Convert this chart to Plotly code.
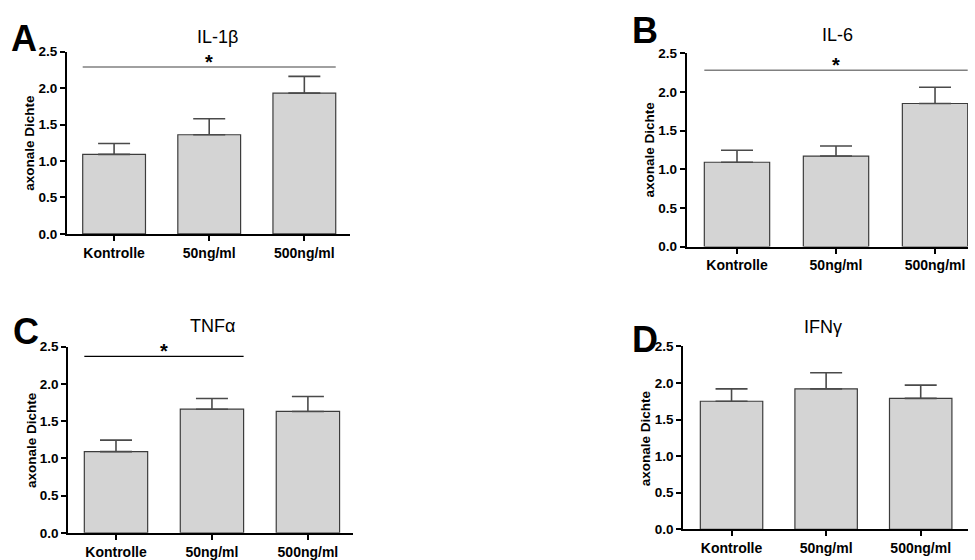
import plotly.graph_objects as go

W, H = 975, 560

categories = ["Kontrolle", "50ng/ml", "500ng/ml"]

panel_letters = ["A", "B", "C", "D"]
panel_titles = ["IL-1β", "IL-6", "TNFα", "IFNγ"]

means_A = [1.09, 1.36, 1.93]
err_A = [0.15, 0.22, 0.23]
means_B = [1.09, 1.17, 1.85]
err_B = [0.155, 0.13, 0.21]
means_C = [1.09, 1.66, 1.63]
err_C = [0.155, 0.145, 0.20]
means_D = [1.75, 1.92, 1.79]
err_D = [0.17, 0.22, 0.18]

# significance brackets: (from index, to index, height)
sig_A = (0, 2, 2.29)
sig_B = (0, 2, 2.28)
sig_C = (0, 1, 2.37)
sig_D = None

y_ticks = [0.0, 0.5, 1.0, 1.5, 2.0, 2.5]
y_title = "axonale Dichte"

means = [means_A, means_B, means_C, means_D]
errs = [err_A, err_B, err_C, err_D]
sigs = [sig_A, sig_B, sig_C, sig_D]

# panel boxes in pixels: (x_left, x_right, y_top, y_bottom), x-range
boxes = [
    (67, 350, 46, 234, [-0.495, 2.48]),
    (686.7, 968, 47.7, 247, [-0.508, 2.333]),
    (68.3, 353, 350.3, 542.3, [-0.497, 2.47]),
    (683.3, 968, 350, 538.7, [-0.51, 2.5]),
]
title_pos = [(217, 31), (837, 29), (212, 329), (823, 330)]
letter_pos = [(9, 32), (630, 24), (11, 335), (630, 343)]
sig_colors = ["#808080", "#808080", "#000000", "#000000"]
sig_widths = [1.5, 1.5, 1.2, 1.2]

BAR_W = 0.66
FONT = "Arial, Liberation Sans, Helvetica, sans-serif"

fig = go.Figure()
annotations = []
shapes = []

for i in range(4):
    xl, xr, yt, yb, xr_range = boxes[i]
    n = "" if i == 0 else str(i + 1)
    xa = "x" + n
    ya = "y" + n
    fig.add_trace(go.Bar(
        x=list(range(len(categories))), y=means[i],
        width=BAR_W,
        marker=dict(color="#d4d4d4", line=dict(color="#3c3c3c", width=1.2)),
        error_y=dict(type="data", symmetric=False, array=errs[i],
                     arrayminus=[0] * len(errs[i]),
                     color="#4a4a4a", thickness=1.6, width=16),
        xaxis=xa, yaxis=ya, showlegend=False, hoverinfo="skip",
    ))
    axis_common = dict(showgrid=False, zeroline=False, showline=True,
                       linecolor="black", linewidth=2, ticks="outside",
                       ticklen=5, tickwidth=1.5, tickcolor="black")
    fig.update_layout(**{
        ("xaxis" + n): dict(domain=[xl / W, xr / W], range=xr_range,
                            anchor=ya, tickvals=list(range(len(categories))),
                            ticktext=categories,
                            tickfont=dict(family=FONT, size=14, color="black", weight="bold"),
                            **axis_common),
        ("yaxis" + n): dict(domain=[1 - yb / H, 1 - yt / H], range=[0, 2.5],
                            anchor=xa, tickvals=y_ticks, tickformat=".1f",
                            tickfont=dict(family=FONT, size=13.5, color="black", weight="bold"),
                            **axis_common),
    })
    # y-axis title
    annotations.append(dict(xref="paper", yref="paper",
                            x=(xl - 37) / W, y=1 - ((yt + yb) / 2) / H,
                            text=y_title, textangle=-90, showarrow=False,
                            xanchor="center", yanchor="middle",
                            font=dict(family=FONT, size=13.5, color="black", weight="bold")))
    # panel title
    tx, ty = title_pos[i]
    annotations.append(dict(xref="paper", yref="paper", x=tx / W, y=1 - ty / H,
                            text=panel_titles[i], showarrow=False,
                            xanchor="center", yanchor="middle",
                            font=dict(family=FONT, size=18, color="black")))
    # panel letter
    lx, ly = letter_pos[i]
    annotations.append(dict(xref="paper", yref="paper", x=lx / W, y=1 - ly / H,
                            text=panel_letters[i], showarrow=False,
                            xanchor="left", yanchor="middle",
                            font=dict(family=FONT, size=36, color="black", weight="bold")))
    # significance bar + star
    s = sigs[i]
    if s is not None:
        a, b, h = s
        shapes.append(dict(type="line", xref=xa, yref=ya,
                           x0=a - BAR_W / 2, x1=b + BAR_W / 2, y0=h, y1=h,
                           line=dict(color=sig_colors[i], width=sig_widths[i])))
        annotations.append(dict(xref=xa, yref=ya, x=(a - BAR_W / 2 + b + BAR_W / 2) / 2,
                                y=h, text="*", showarrow=False,
                                xanchor="center", yanchor="bottom", yshift=-8,
                                font=dict(family=FONT, size=20, color="black", weight="bold")))

fig.update_layout(width=W, height=H, margin=dict(l=0, r=0, t=0, b=0),
                  paper_bgcolor="white", plot_bgcolor="white",
                  annotations=annotations, shapes=shapes, showlegend=False)

fig.write_html("out.html", config={"displayModeBar": False},
               post_script="document.body.style.margin='0';document.body.style.overflow='hidden';")
